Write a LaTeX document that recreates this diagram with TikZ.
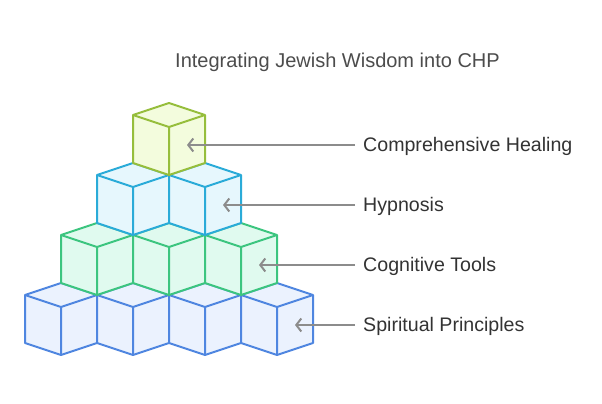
\documentclass[tikz,border=0pt]{standalone}
\usepackage{fontspec}
\setmainfont{Liberation Sans}
\usetikzlibrary{arrows.meta,positioning}
\definecolor{limeline}{HTML}{96BE3C}
\definecolor{limefill}{HTML}{F3FCDD}
\definecolor{cyanline}{HTML}{2AABD8}
\definecolor{cyanfill}{HTML}{E6F7FD}
\definecolor{mintline}{HTML}{3CC57F}
\definecolor{mintfill}{HTML}{E0FAEF}
\definecolor{blueline}{HTML}{4F86E0}
\definecolor{bluefill}{HTML}{EBF2FE}
\tikzset{
    cubeedge/.style={line width=2pt, line join=round},
    healing/.style={cubeedge, draw=limeline, fill=limefill},
    hypno/.style={cubeedge, draw=cyanline, fill=cyanfill},
    cogni/.style={cubeedge, draw=mintline, fill=mintfill},
    spirit/.style={cubeedge, draw=blueline, fill=bluefill},
    levellabel/.style={anchor=west, inner sep=0pt, text=black!80,
        font=\fontsize{19.6}{23}\selectfont},
    pointer/.style={draw=black!45, line width=2pt,
        -{Straight Barb[length=5pt,width=13pt]}, shorten <=8pt}
}
% one cube: centre x, top y, style
\newcommand{\isocube}[3]{%
    \filldraw[#3] (#1,#2) -- ++(36,12) -- ++(0,48) -- ++(-36,12)
        -- ++(-36,-12) -- ++(0,-48) -- cycle;
    \draw[#3] (#1-36,#2+12) -- (#1,#2+24) -- (#1+36,#2+12)
        (#1,#2+24) -- (#1,#2+72);
}
\begin{document}
\begin{tikzpicture}[x=1pt, y=-1pt]
\useasboundingbox (0,0) rectangle (602,404);
% pyramid, bottom row first
\foreach \cx in {61,133,205,277} {\isocube{\cx}{283}{spirit}}
\foreach \cx in {97,169,241} {\isocube{\cx}{223}{cogni}}
\foreach \cx in {133,205} {\isocube{\cx}{163}{hypno}}
\isocube{169}{103}{healing}
% title
\node[text=black!70, font=\fontsize{20}{24}\selectfont] (title) at (337.5,62)
    {Integrating Jewish Wisdom into CHP};
% labels
\node[levellabel] (lblHeal) at (363,146.5) {Comprehensive Healing};
\node[levellabel] (lblHyp) at (363,206.5) {Hypnosis};
\node[levellabel] (lblCog) at (363,266.5) {Cognitive Tools};
\node[levellabel] (lblSpi) at (363,326.5) {Spiritual Principles};
\coordinate (tipHeal) at (187,145);
\coordinate (tipHyp) at (223,205);
\coordinate (tipCog) at (259,265);
\coordinate (tipSpi) at (295,325);
\draw[pointer] (lblHeal.west |- tipHeal) -- (tipHeal);
\draw[pointer] (lblHyp.west |- tipHyp) -- (tipHyp);
\draw[pointer] (lblCog.west |- tipCog) -- (tipCog);
\draw[pointer] (lblSpi.west |- tipSpi) -- (tipSpi);
\end{tikzpicture}
\end{document}
